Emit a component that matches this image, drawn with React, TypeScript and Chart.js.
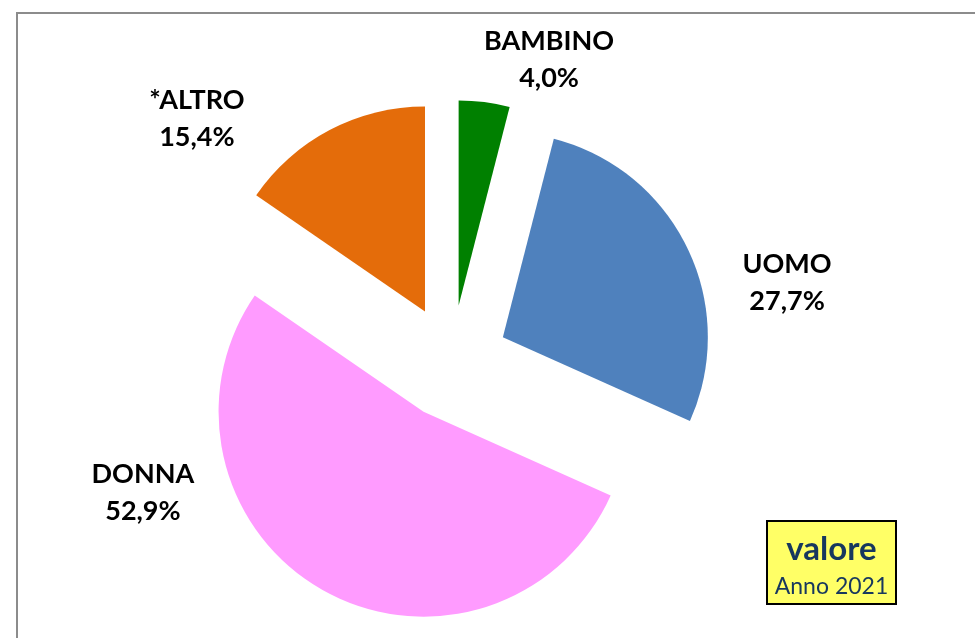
import React, { useEffect, useRef } from 'react';
import { Chart, PieController, ArcElement, registerables } from 'chart.js';

// ---- data ----
const categories = ['BAMBINO', 'UOMO', 'DONNA', '*ALTRO'];
const values = [4.0, 27.7, 52.9, 15.4];
const colors = ['#008000', '#4F81BD', '#FF9BFF', '#E46C0A'];
// label placement: angle (deg, clockwise from 12 o'clock) and distance (x radius) from pie centre
const labelAngles = [17.9, 76.7, 247.1, 313.7];
const labelDistances = [1.548, 1.682, 1.634, 1.718];
const boxTitle = 'valore';
const boxSubtitle = 'Anno 2021';

const FONT = 'Lato, "Open Sans", sans-serif';

class ExplodedArc extends ArcElement {
  static id = 'explodedArc';
  draw(ctx: CanvasRenderingContext2D) {
    const self = this as any;
    const { x, y, startAngle, endAngle, outerRadius } = self;
    const opts = self.options;
    const shift = opts.offset || 0;
    const mid = (startAngle + endAngle) / 2;
    ctx.save();
    ctx.translate(Math.cos(mid) * shift, Math.sin(mid) * shift);
    ctx.beginPath();
    ctx.moveTo(x, y);
    ctx.arc(x, y, outerRadius, startAngle, endAngle);
    ctx.closePath();
    ctx.fillStyle = opts.backgroundColor;
    ctx.fill();
    ctx.restore();
  }
}

class ExplodedPieController extends PieController {
  static id = 'explodedPie';
  static defaults = { dataElementType: 'explodedArc' };
}

Chart.register(...registerables, ExplodedArc, ExplodedPieController);

const fmt = (v: number) => v.toFixed(1).replace('.', ',') + '%';

const labelPlugin = {
  id: 'sliceLabels',
  afterDatasetsDraw(chart: any) {
    const meta = chart.getDatasetMeta(0);
    const total = values.reduce((a, b) => a + b, 0);
    const ctx = chart.ctx as CanvasRenderingContext2D;
    ctx.save();
    ctx.fillStyle = '#000000';
    ctx.font = `bold 27px ${FONT}`;
    ctx.textAlign = 'center';
    ctx.textBaseline = 'middle';
    meta.data.forEach((arc: any, i: number) => {
      const a = (labelAngles[i] * Math.PI) / 180;
      const d = arc.outerRadius * labelDistances[i];
      const lx = arc.x + Math.sin(a) * d;
      const ly = arc.y - Math.cos(a) * d;
      ctx.fillText(categories[i], lx, ly - 18.5);
      ctx.fillText(fmt((values[i] / total) * 100), lx, ly + 18.5);
    });
    ctx.restore();
  },
};

const framePlugin = {
  id: 'frameAndBox',
  afterDraw(chart: any) {
    const ctx = chart.ctx as CanvasRenderingContext2D;
    ctx.save();
    // outer frame
    ctx.strokeStyle = '#8C8C8C';
    ctx.lineWidth = 2;
    ctx.strokeRect(17, 13, 980, 640);
    // info box
    const bx = 767, by = 521, bw = 129, bh = 83;
    ctx.fillStyle = '#FFFF66';
    ctx.fillRect(bx, by, bw, bh);
    ctx.strokeStyle = '#000000';
    ctx.lineWidth = 2;
    ctx.strokeRect(bx, by, bw, bh);
    ctx.fillStyle = '#17375E';
    ctx.textAlign = 'center';
    ctx.textBaseline = 'middle';
    ctx.font = `bold 33px ${FONT}`;
    ctx.fillText(boxTitle, bx + bw / 2, by + 28);
    ctx.font = `23px ${FONT}`;
    ctx.fillText(boxSubtitle, bx + bw / 2, by + 66);
    ctx.restore();
  },
};

export default function App() {
  const ref = useRef<HTMLCanvasElement | null>(null);
  useEffect(() => {
    if (!ref.current) return;
    const chart = new Chart(ref.current, {
      type: 'explodedPie' as any,
      data: {
        labels: categories,
        datasets: [
          {
            data: values,
            backgroundColor: colors,
            borderWidth: 0,
            offset: 57,
            radius: 205,
            clip: false,
          } as any,
        ],
      },
      options: {
        animation: false,
        responsive: false,
        maintainAspectRatio: false,
        layout: { padding: { left: 0, right: 72, top: 86, bottom: 0 } },
        plugins: { legend: { display: false }, tooltip: { enabled: false } },
        events: [],
      } as any,
      plugins: [labelPlugin, framePlugin],
    });
    return () => chart.destroy();
  }, []);
  return (
    <div style={{ position: 'fixed', left: 0, top: 0, width: 975, height: 638, background: '#fff' }}>
      <canvas ref={ref} width={975} height={638} style={{ display: 'block' }} />
    </div>
  );
}
